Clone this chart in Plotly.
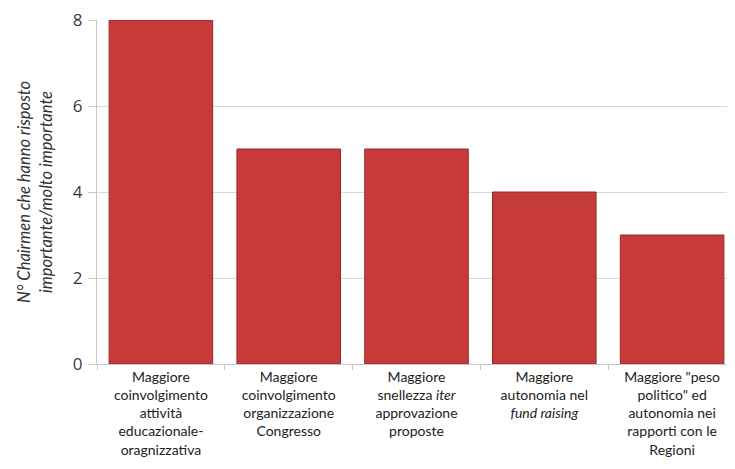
import plotly.graph_objects as go

categories = [
    "Maggiore<br>coinvolgimento<br>attività<br>educazionale-<br>oragnizzativa",
    "Maggiore<br>coinvolgimento<br>organizzazione<br>Congresso",
    "Maggiore<br>snellezza <i>iter</i><br>approvazione<br>proposte",
    "Maggiore<br>autonomia nel<br><i>fund raising</i>",
    "Maggiore \"peso<br>politico\" ed<br>autonomia nei<br>rapporti con le<br>Regioni",
]
values = [8, 5, 5, 4, 3]
y_ticks = [0, 2, 4, 6, 8]

fig = go.Figure()
fig.add_trace(go.Bar(
    x=categories, y=values,
    marker=dict(color="#c63a39", line=dict(color="#962626", width=1)),
))
fig.update_layout(
    width=735, height=469,
    margin=dict(l=89, r=7, t=12, b=113),
    paper_bgcolor="white", plot_bgcolor="white",
    bargap=0.19,
    showlegend=False,
    font=dict(family="Lato, Open Sans, sans-serif", color="#333333"),
)
fig.update_yaxes(
    range=[0, 8.001], tickvals=y_ticks,
    tickfont=dict(size=17, color="#3a3a3a", family="Open Sans, sans-serif"),
    showgrid=True, gridcolor="#d9d9d9", gridwidth=1,
    showline=True, linecolor="#c8c8c8",
    ticks="outside", ticklen=8, tickcolor="#c8c8c8",
    ticklabelstandoff=2, ticklabeloverflow="allow",
    zeroline=False, automargin=False,
    title=dict(text="<i>N° Chairmen che hanno risposto<br>importante/molto importante</i>",
               font=dict(size=16.5, color="#333333"), standoff=16),
)
fig.update_xaxes(
    tickfont=dict(size=14, color="#222222"),
    showline=True, linecolor="#c8c8c8",
    ticks="outside", tickson="boundaries", ticklen=5, tickcolor="#c8c8c8",
    tickangle=0, automargin=False,
)
fig.write_html("out.html")
